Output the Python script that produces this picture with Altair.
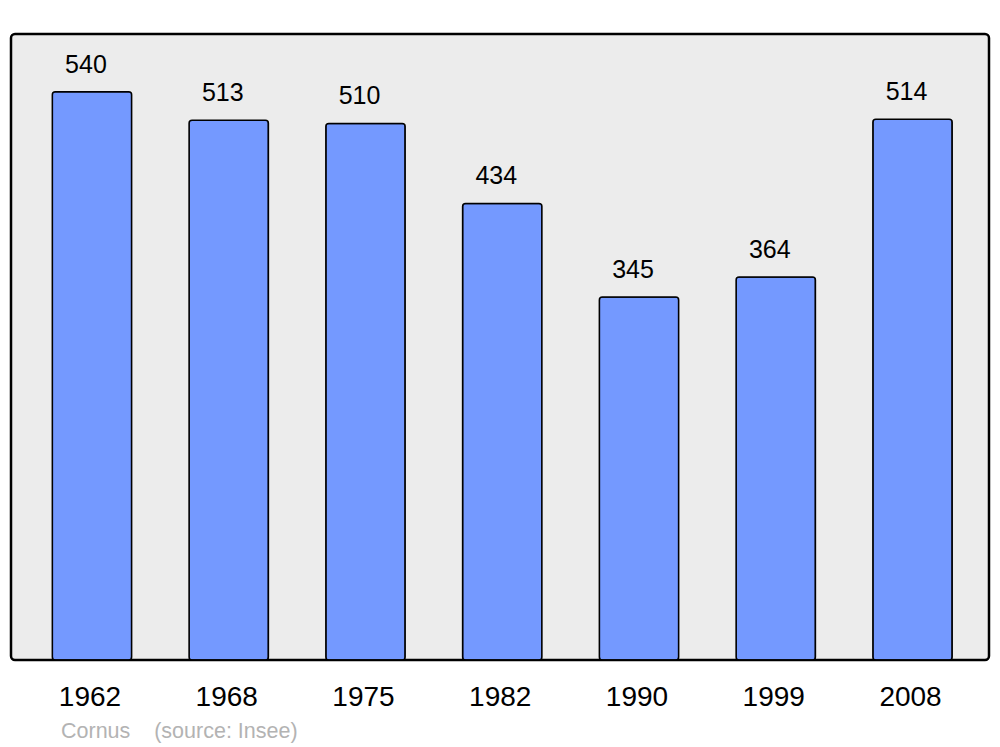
import altair as alt
import pandas as pd

years = ["1962", "1968", "1975", "1982", "1990", "1999", "2008"]
population = [540, 513, 510, 434, 345, 364, 514]

df = pd.DataFrame({"year": years, "pop": population})

FONT = "Liberation Sans"

x = alt.X("year:N", sort=years, title=None,
          scale=alt.Scale(range=[12.6, 969.9], paddingInner=0.42, paddingOuter=0.21),
          axis=alt.Axis(labelAngle=0, labelFontSize=28, labelFont=FONT, labelColor="black",
                        ticks=False, domain=False, grid=False, labelPadding=45,
                        labelBaseline="alphabetic", labelOffset=-2))
y = alt.Y("pop:Q", scale=alt.Scale(domain=[0, 595], nice=False, zero=True), axis=None)

bars = alt.Chart(df).mark_bar(color="#7499ff", stroke="black", strokeWidth=1.5,
                              cornerRadius=3).encode(x=x, y=y)
labels = alt.Chart(df).mark_text(baseline="alphabetic", dy=-19, dx=-6, fontSize=25, font=FONT,
                                 color="black").encode(x=x, y=y, text="pop:Q")

chart = (bars + labels).properties(
    width=978, height=626,
    autosize=alt.AutoSizeParams(type="none"),
    padding={"left": 3, "top": 26, "right": 3, "bottom": 85},
    title=alt.TitleParams(text="Cornus\u00a0\u00a0\u00a0\u00a0(source: Insee)", orient="bottom",
                          anchor="start", dx=50, offset=27, fontSize=21.5, font=FONT,
                          fontWeight="normal", color="#b3b3b3", baseline="alphabetic"),
).configure_view(fill="#ececec", stroke="black", strokeWidth=2.5, cornerRadius=4)

chart.save("out.html", embed_options={"renderer": "svg", "actions": False})
